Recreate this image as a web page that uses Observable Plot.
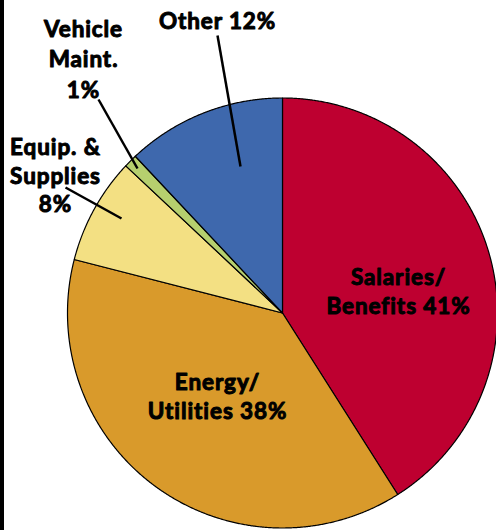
<!DOCTYPE html>
<html><head><meta charset="utf-8">
<script src="https://cdn.jsdelivr.net/npm/d3@7"></script>
<script src="https://cdn.jsdelivr.net/npm/@observablehq/plot@0.6"></script>
<style>
body{margin:0;background:#fff;}
#wrap{position:relative;width:496px;height:530px;overflow:hidden;}
#bar{position:absolute;left:0;top:0;width:4px;height:530px;background:#000;}
</style></head><body><div id="wrap"><div id="bar"></div></div>
<script>
// ---- data ----
const categories = ["Salaries/Benefits", "Energy/Utilities", "Equip. & Supplies", "Vehicle Maint.", "Other"];
const shares = [41, 38, 8, 1, 12];
const labelTexts = ["Salaries/\nBenefits 41%", "Energy/\nUtilities 38%", "Equip. &\nSupplies\n8%", "Vehicle\nMaint.\n1%", "Other 12%"];
const colors = ["#BE0030", "#D99A2B", "#F3E083", "#B6CF6E", "#3E68AD"];

// ---- layout (pixels) ----
const W = 496, H = 530, CX = 282, CY = 312.5, R = 215;
const toX = px => (px - CX) / R, toY = py => (CY - py) / R;
const labelPos = [[398, 290], [217, 395], [55, 174], [83, 57], [217, 19]];
const leaders = [
  {cat: "Equip. & Supplies", p: [[65, 187], [121, 218]]},
  {cat: "Vehicle Maint.", p: [[98, 99], [137, 168]]},
  {cat: "Other", p: [[217, 35], [240, 166]]}
];

// ---- slice geometry from the data ----
const arcs = d3.pie().sort(null).value(d => d)(shares);
const slicePts = [];
arcs.forEach((a, i) => {
  const cat = categories[i];
  slicePts.push({cat, x: 0, y: 0});
  const n = Math.max(2, Math.ceil((a.endAngle - a.startAngle) / 0.005));
  for (let k = 0; k <= n; k++) {
    const t = a.startAngle + (a.endAngle - a.startAngle) * k / n;
    slicePts.push({cat, x: Math.sin(t), y: Math.cos(t)});
  }
  slicePts.push({cat, x: 0, y: 0});
});

const labels = categories.map((c, i) => ({cat: c, text: labelTexts[i], x: toX(labelPos[i][0]), y: toY(labelPos[i][1])}));
const links = leaders.map(l => ({cat: l.cat, x1: toX(l.p[0][0]), y1: toY(l.p[0][1]), x2: toX(l.p[1][0]), y2: toY(l.p[1][1])}));

const font = "Lato, sans-serif";
const textOpts = {x: "x", y: "y", text: "text", fill: "black", stroke: "black", strokeWidth: 1, fontSize: 22.5, fontWeight: 700, fontFamily: font, textAnchor: "middle"};

const chart = Plot.plot({
  width: W, height: H, margin: 0,
  style: {letterSpacing: "0.9px"},
  x: {domain: [toX(0), toX(W)], axis: null},
  y: {domain: [toY(H), toY(0)], axis: null},
  color: {domain: categories, range: colors},
  marks: [
    Plot.line(slicePts, {x: "x", y: "y", z: "cat", fill: "cat", stroke: "black", strokeWidth: 1.2, curve: "linear", strokeLinejoin: "round"}),
    Plot.link(links, {x1: "x1", y1: "y1", x2: "x2", y2: "y2", stroke: "black", strokeWidth: 2.5}),
    Plot.text(labels.filter(d => d.cat !== "Vehicle Maint."), {...textOpts, lineHeight: 1.25}),
    Plot.text(labels.filter(d => d.cat === "Vehicle Maint."), {...textOpts, lineHeight: 1.36})
  ]
});
document.getElementById("wrap").prepend(chart);
</script>
</body></html>
